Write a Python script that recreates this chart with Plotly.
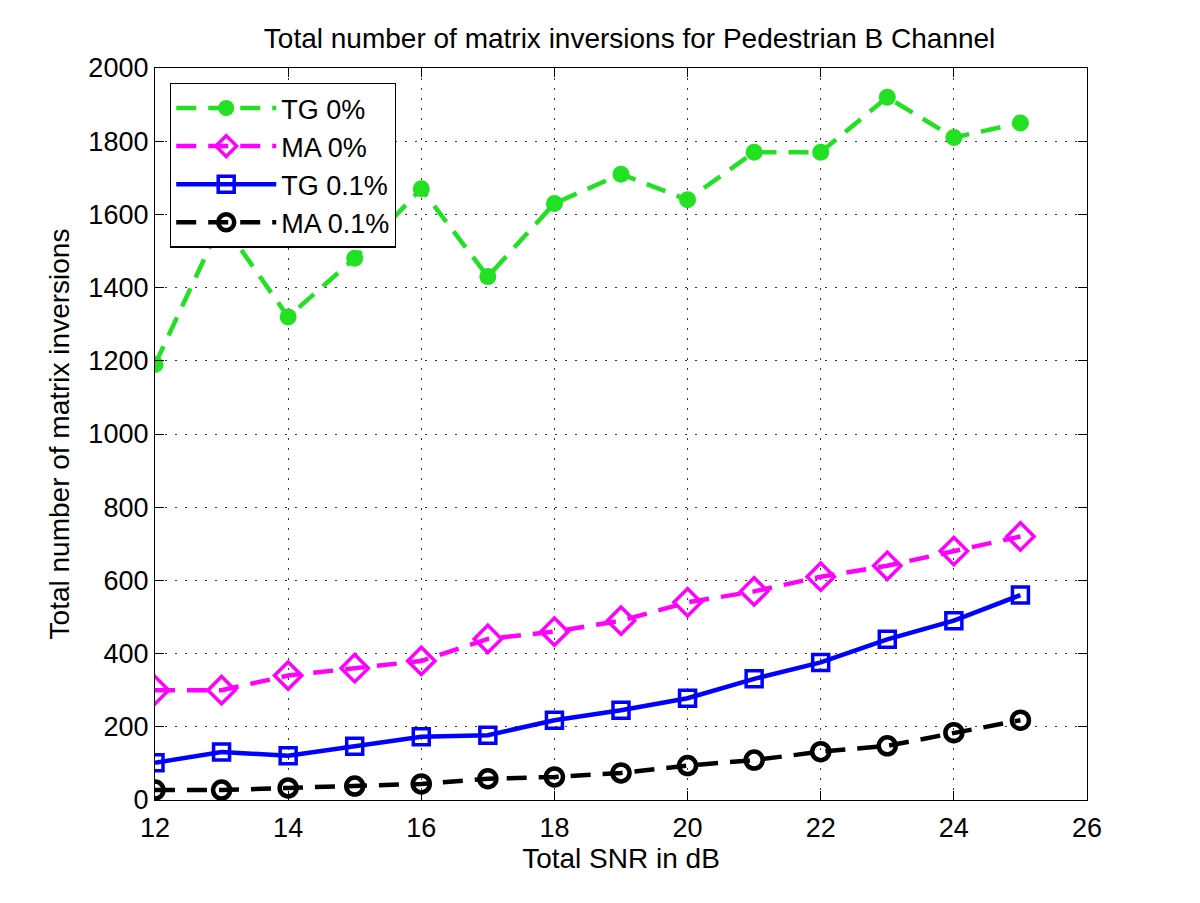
import plotly.graph_objects as go

snr = [12, 13, 14, 15, 16, 17, 18, 19, 20, 21, 22, 23, 24, 25]
tg0 = [1190, 1580, 1320, 1480, 1670, 1430, 1630, 1710, 1640, 1770, 1770, 1920, 1810, 1850]
ma0 = [300, 300, 340, 360, 380, 440, 460, 490, 540, 570, 610, 640, 680, 720]
tg01 = [102, 131, 121, 147, 173, 177, 218, 245, 278, 331, 376, 439, 490, 560]
ma01 = [27, 27, 33, 38, 44, 58, 63, 74, 94, 109, 132, 148, 184, 218]

x_ticks = [12, 14, 16, 18, 20, 22, 24, 26]
y_ticks = [0, 200, 400, 600, 800, 1000, 1200, 1400, 1600, 1800, 2000]

FONT = "Liberation Sans, Arial, Helvetica, sans-serif"
DASH = "20px,12px"
FS_TICK = 27
FS_LAB = 28
FS_LEG = 27

fig = go.Figure()
fig.add_trace(go.Scatter(x=snr, y=tg0, name="TG 0%", mode="lines+markers",
                         line=dict(color="#22e022", width=4.5, dash=DASH),
                         marker=dict(symbol="circle", size=17, color="#22e022")))
fig.add_trace(go.Scatter(x=snr, y=ma0, name="MA 0%", mode="lines+markers",
                         line=dict(color="#ff00ff", width=4.5, dash=DASH),
                         marker=dict(symbol="diamond-open", size=21, color="#ff00ff",
                                     line=dict(width=3.5, color="#ff00ff"))))
fig.add_trace(go.Scatter(x=snr, y=tg01, name="TG 0.1%", mode="lines+markers",
                         line=dict(color="#0000ff", width=4.5),
                         marker=dict(symbol="square-open", size=16, color="#0000ff",
                                     line=dict(width=3.5, color="#0000ff"))))
fig.add_trace(go.Scatter(x=snr, y=ma01, name="MA 0.1%", mode="lines+markers",
                         line=dict(color="#000000", width=4.5, dash=DASH),
                         marker=dict(symbol="circle-open", size=17, color="#000000",
                                     line=dict(width=4.5, color="#000000"))))

axis_common = dict(
    showline=True, linecolor="black", linewidth=1.3, mirror="ticks",
    ticks="inside", ticklen=9, tickcolor="black", tickwidth=1.3,
    showgrid=True, gridcolor="#333333", griddash="2px,8px", gridwidth=1,
    zeroline=False, tickfont=dict(size=FS_TICK, color="black", family=FONT),
)

fig.update_layout(
    width=1200, height=903,
    paper_bgcolor="white", plot_bgcolor="white",
    margin=dict(l=147, r=121, t=60, b=111),
    font=dict(family=FONT, color="black"),
    title=dict(text="Total number of matrix inversions for Pedestrian B Channel",
               x=0.518, xanchor="center", y=0.967, yanchor="middle",
               font=dict(size=FS_LAB, color="black", family=FONT)),
    xaxis=dict(range=[12, 26], tickvals=x_ticks, ticklabelstandoff=3,
               title=dict(text="Total SNR in dB", font=dict(size=FS_LAB), standoff=0),
               **axis_common),
    yaxis=dict(range=[0, 2000], tickvals=y_ticks,
               title=dict(text="Total number of matrix inversions", font=dict(size=FS_LAB), standoff=10),
               **axis_common),
    legend=dict(x=0.016, y=0.98, xanchor="left", yanchor="top",
                bgcolor="white", bordercolor="black", borderwidth=1.3,
                font=dict(size=FS_LEG, color="black", family=FONT),
                itemwidth=100, tracegroupgap=0),
    showlegend=True,
)

fig.write_html("out.html")
